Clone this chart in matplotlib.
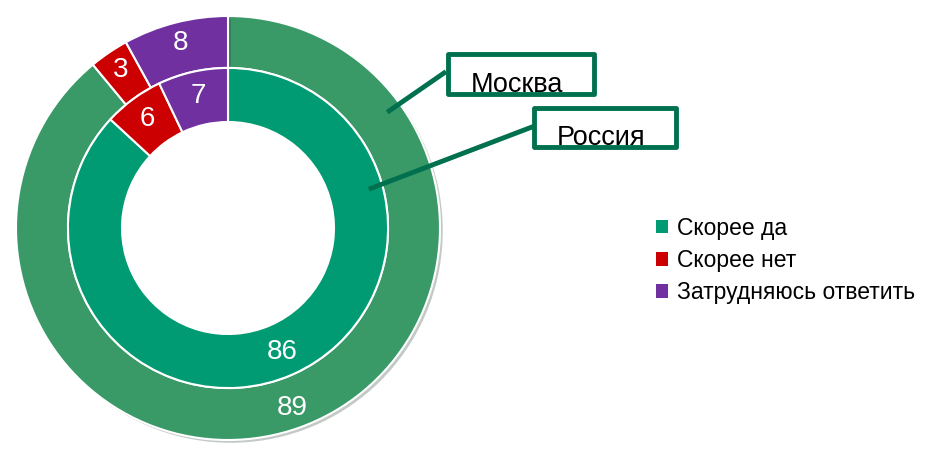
import numpy as np
import matplotlib.pyplot as plt
from matplotlib.patches import Patch
import matplotlib.patheffects as pe

plt.rcParams['font.family'] = ['Liberation Sans', 'DejaVu Sans']

categories = ["Скорее да", "Скорее нет", "Затрудняюсь ответить"]
moscow = [89, 3, 8]
russia = [86, 6, 7]
outer_colors = ["#399A68", "#CC0000", "#7030A0"]
inner_colors = ["#009B72", "#CC0000", "#7030A0"]
legend_colors = ["#009B72", "#CC0000", "#7030A0"]
box_color = "#00704F"

fig = plt.figure(figsize=(9.28, 4.5), dpi=100)
# square axes centred on the donut
ax = fig.add_axes([16 / 928, 10 / 450, 424 / 928, 424 / 450])

outer, _ = ax.pie(moscow, radius=1.0, startangle=90, counterclock=False,
                  colors=outer_colors,
                  wedgeprops=dict(width=0.245, edgecolor="white", linewidth=1.5))
inner, _ = ax.pie(russia, radius=0.755, startangle=90, counterclock=False,
                  colors=inner_colors,
                  wedgeprops=dict(width=0.255, edgecolor="white", linewidth=1.5))

for w in outer:
    w.set_path_effects([pe.SimplePatchShadow(offset=(2, -2), alpha=0.25), pe.Normal()])


def label_ring(wedges, values, r):
    for w, v in zip(wedges, values):
        ang = np.deg2rad((w.theta1 + w.theta2) / 2)
        ax.text(r * np.cos(ang), r * np.sin(ang), str(v), color="white",
                fontsize=20, ha="center", va="center")


label_ring(outer, moscow, 0.9)
label_ring(inner, russia, 0.64)
ax.set_xlim(-1, 1)
ax.set_ylim(-1, 1)
ax.axis("off")


# callouts: leader line from inside the green wedge to the box
def callout(wedge, r, back, box_xy, line_to, text):
    ang = np.deg2rad(wedge.theta2 - back)
    x0, y0 = ax.transData.transform((r * np.cos(ang), r * np.sin(ang)))
    fx, fy = fig.transFigure.inverted().transform((x0, y0))
    fig.add_artist(plt.Line2D([fx, line_to[0] / 928], [fy, 1 - line_to[1] / 450],
                              color=box_color, linewidth=3.5))
    bx, by, bw, bh = box_xy
    fig.add_artist(plt.Rectangle((bx / 928, 1 - (by + bh) / 450), bw / 928, bh / 450,
                                 fill=False, edgecolor=box_color, linewidth=3.5,
                                 joinstyle="round"))
    fig.text((bx + bw / 2 - 4) / 928, 1 - (by + bh - 2) / 450, text,
             fontsize=19.5, ha="center", va="baseline", color="black")


callout(outer[0], 0.94, 54, (448, 54, 146, 40), (444, 73), "Москва")
callout(inner[0], 0.70, 74.5, (534, 108, 142, 39), (532, 127), "Россия")

handles = [Patch(facecolor=c) for c in legend_colors]
fig.legend(handles, categories, loc="upper left", bbox_to_anchor=(635 / 928, 1 - 196 / 450),
           frameon=False, fontsize=16.5, handlelength=0.55, handleheight=0.55,
           handletextpad=0.4, labelspacing=0.4)

fig.savefig("out.png", dpi=100)
